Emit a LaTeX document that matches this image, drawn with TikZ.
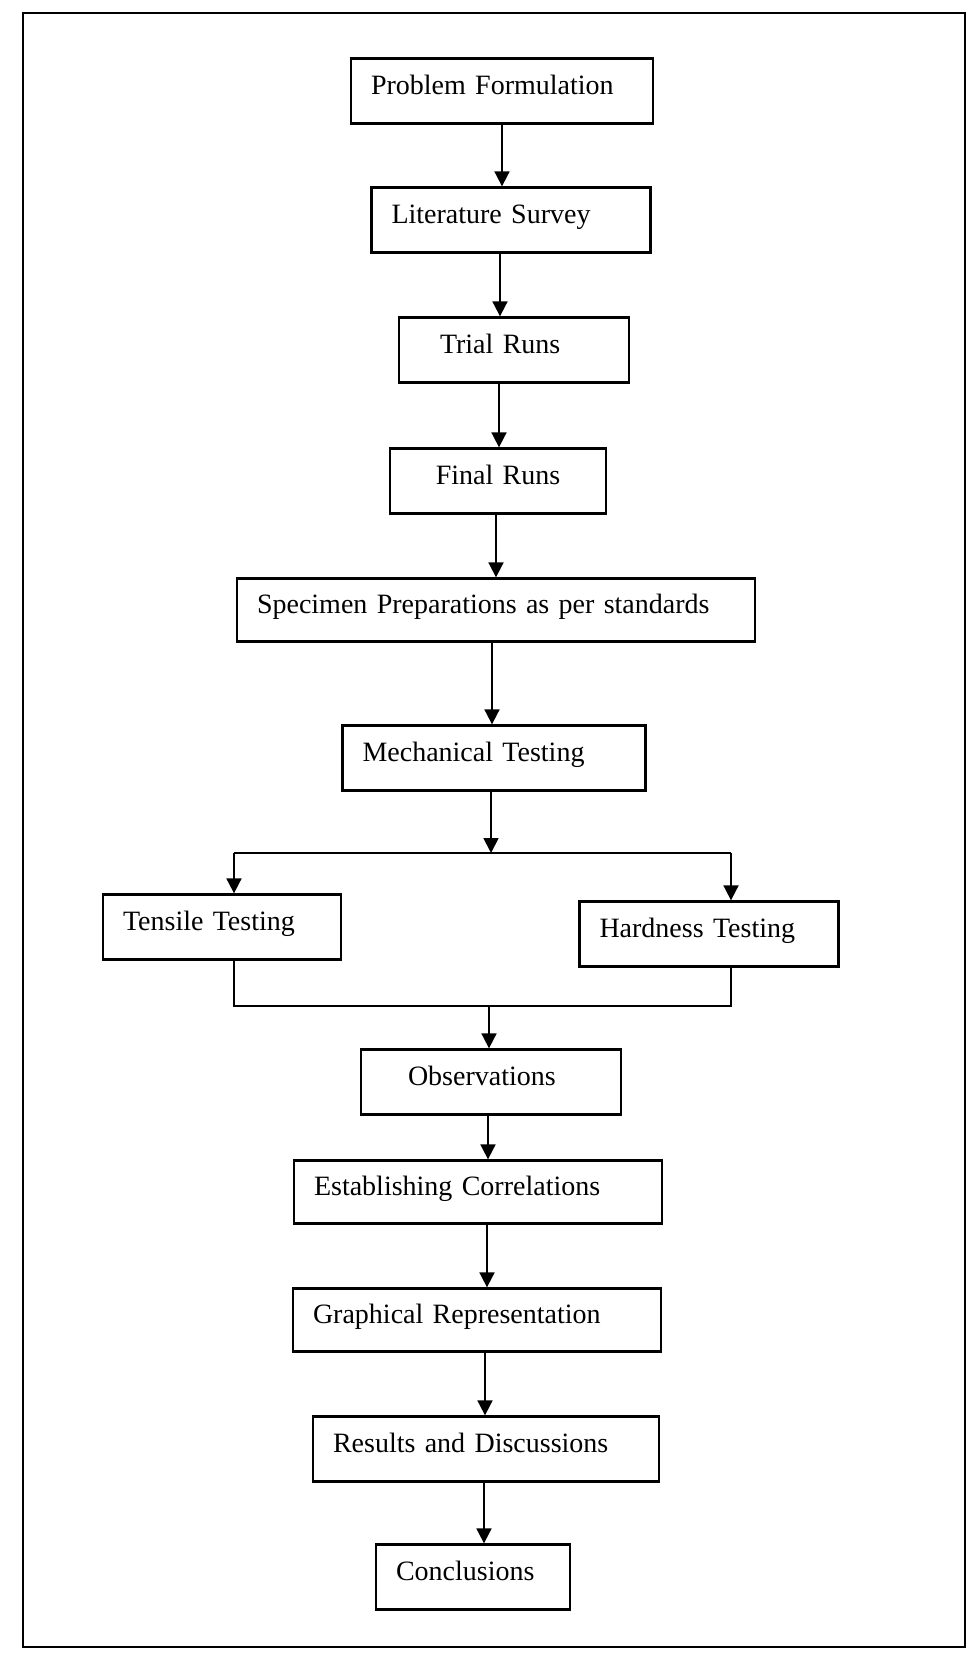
\documentclass[tikz,border=0pt]{standalone}
\usepackage{fontspec}
\setmainfont{Liberation Serif}
\usepackage{tikz}
\usetikzlibrary{shapes,arrows.meta,calc}
\tikzstyle{arrow} = [draw, line width=1.8pt, -{Triangle[length=15pt,width=15pt]}]
\tikzstyle{line} = [draw, line width=1.8pt]
\tikzstyle{stage} = [draw, line width=2.3pt, rectangle, minimum height=65pt,
  inner xsep=20pt, inner ysep=0pt, align=left, text height=19pt, text depth=13pt,
  font=\fontsize{28}{32}\selectfont]

\begin{document}
\begin{tikzpicture}[x=1pt, y=-1pt]
      \useasboundingbox (0,0) rectangle (968,1654);
      \draw[line width=2.8pt] (23,13) rectangle (965,1647);

      % stages
      \node[stage, text width=262pt] (pf) at (502, 91) {Problem Formulation};
      \node[stage, text width=239pt] (ls) at (511, 220) {Literature Survey};
      \node[stage, text width=148pt, inner xsep=41pt] (tr) at (514, 350) {Trial Runs};
      \node[stage, text width=176pt, align=center] (fr) at (498, 481) {Final Runs};
      \node[stage, text width=478pt, minimum height=63pt] (sp) at (496, 610) {Specimen Preparations as per standards};
      \node[stage, text width=263pt] (mt) at (494, 758) {Mechanical Testing};
      \node[stage, text width=198pt] (tt) at (222, 927) {Tensile Testing};
      \node[stage, text width=219pt] (ht) at (709, 934) {Hardness Testing};
      \node[stage, text width=166pt, inner xsep=47pt] (ob) at (491, 1082) {Observations};
      \node[stage, text width=328pt, minimum height=63pt] (ec) at (478, 1192) {Establishing Correlations};
      \node[stage, text width=328pt, minimum height=63pt] (gr) at (477, 1320) {Graphical Representation};
      \node[stage, text width=306pt] (rd) at (486, 1449) {Results and Discussions};
      \node[stage, text width=154pt] (co) at (473, 1577) {Conclusions};

      % straight links
      \draw[arrow] (pf.south -| 502,0) -- (ls.north -| 502,0);
      \draw[arrow] (ls.south -| 500,0) -- (tr.north -| 500,0);
      \draw[arrow] (tr.south -| 499,0) -- (fr.north -| 499,0);
      \draw[arrow] (fr.south -| 496,0) -- (sp.north -| 496,0);
      \draw[arrow] (sp.south -| 492,0) -- (mt.north -| 492,0);

      % branch to the two tests
      \coordinate (split) at (491, 853);
      \coordinate (splitL) at (234, 853);
      \coordinate (splitR) at (731, 853);
      \draw[arrow] (mt.south -| split) -- (split);
      \draw[line] (splitL) -- (splitR);
      \draw[arrow] (splitL) -- (tt.north -| splitL);
      \draw[arrow] (splitR) -- (ht.north -| splitR);

      % join again
      \coordinate (join) at (489, 1006);
      \coordinate (joinL) at (234, 1006);
      \coordinate (joinR) at (731, 1006);
      \draw[line] (tt.south -| joinL) -- (joinL) -- (joinR) -- (ht.south -| joinR);
      \draw[arrow] (join) -- (ob.north -| join);

      \draw[arrow] (ob.south -| 488,0) -- (ec.north -| 488,0);
      \draw[arrow] (ec.south -| 487,0) -- (gr.north -| 487,0);
      \draw[arrow] (gr.south -| 485,0) -- (rd.north -| 485,0);
      \draw[arrow] (rd.south -| 484,0) -- (co.north -| 484,0);
    \end{tikzpicture}
\end{document}
